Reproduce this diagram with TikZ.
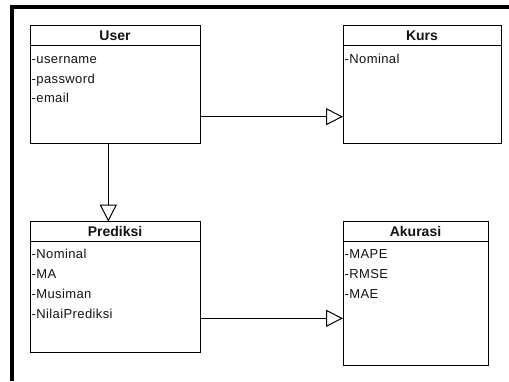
\documentclass[tikz,border=0pt]{standalone}
\usepackage{fontspec}
\setmainfont{Liberation Sans}
\usetikzlibrary{arrows.meta,calc}
\tikzset{
  cls/.style={draw=black, line width=1pt, inner sep=0pt, outer sep=0pt, fill=white},
  hdr/.style={font=\fontsize{14}{16}\selectfont\bfseries, inner sep=0pt, anchor=base, text=gray!15!black},
  attr/.style={font=\fontsize{13}{15}\selectfont\addfontfeature{LetterSpace=3}, inner sep=0pt, anchor=base west, text=gray!15!black},
  sep/.style={draw=black, line width=1pt},
  inh/.style={draw=black, line width=1pt, -{Triangle[open, length=17pt, width=17pt]}},
  frame/.style={draw=black, line width=4pt}
}
\begin{document}
\begin{tikzpicture}[x=1pt, y=-1pt]
\fill[white] (0,0) rectangle (509,381);
\useasboundingbox (0,0) rectangle (509,381);
\draw[frame] (11.5,381) -- (11.5,7) -- (509,7);

% boxes
\node[cls, minimum width=170pt, minimum height=117.6pt] (user) at (115,84.5) {};
\node[cls, minimum width=158pt, minimum height=117.6pt] (kurs) at (422,84.5) {};
\node[cls, minimum width=170pt, minimum height=130.6pt] (pred) at (115,287) {};
\node[cls, minimum width=145pt, minimum height=143.3pt] (akur) at (415.5,293.35) {};

% header separators
\draw[sep] ([yshift=-19.5pt]user.north west) -- ([yshift=-19.5pt]user.north east);
\draw[sep] ([yshift=-19.5pt]kurs.north west) -- ([yshift=-19.5pt]kurs.north east);
\draw[sep] ([yshift=-19.5pt]pred.north west) -- ([yshift=-19.5pt]pred.north east);
\draw[sep] ([yshift=-19.5pt]akur.north west) -- ([yshift=-19.5pt]akur.north east);

% headers
\node[hdr] (userT) at ([yshift=-14.5pt]user.north) {User};
\node[hdr] (kursT) at ([yshift=-14.5pt]kurs.north) {Kurs};
\node[hdr] (predT) at ([yshift=-15pt]pred.north) {Prediksi};
\node[hdr] (akurT) at ([yshift=-15pt]akur.north) {Akurasi};

% attributes
\node[attr] (u1) at ([xshift=1.5pt,yshift=-37.8pt]user.north west) {-username};
\node[attr] (u2) at ([yshift=-19.5pt]u1.base west) {-password};
\node[attr] (u3) at ([yshift=-19.5pt]u2.base west) {-email};

\node[attr] (k1) at ([xshift=1.5pt,yshift=-37.8pt]kurs.north west) {-Nominal};

\node[attr] (p1) at ([xshift=1.5pt,yshift=-36.6pt]pred.north west) {-Nominal};
\node[attr] (p2) at ([yshift=-20pt]p1.base west) {-MA};
\node[attr] (p3) at ([yshift=-20pt]p2.base west) {-Musiman};
\node[attr] (p4) at ([yshift=-20pt]p3.base west) {-NilaiPrediksi};

\node[attr] (a1) at ([xshift=1.5pt,yshift=-36.6pt]akur.north west) {-MAPE};
\node[attr] (a2) at ([yshift=-20pt]a1.base west) {-RMSE};
\node[attr] (a3) at ([yshift=-20pt]a2.base west) {-MAE};

% connectors
\coordinate (c1) at ([yshift=-91pt]user.north east);
\draw[inh] (c1) -- (c1 -| kurs.west);
\coordinate (c2) at ([xshift=78.3pt]user.south west);
\draw[inh] (c2) -- (c2 |- pred.north);
\coordinate (c3) at ([yshift=-96.6pt]pred.north east);
\draw[inh] (c3) -- (c3 -| akur.west);
\end{tikzpicture}
\end{document}
